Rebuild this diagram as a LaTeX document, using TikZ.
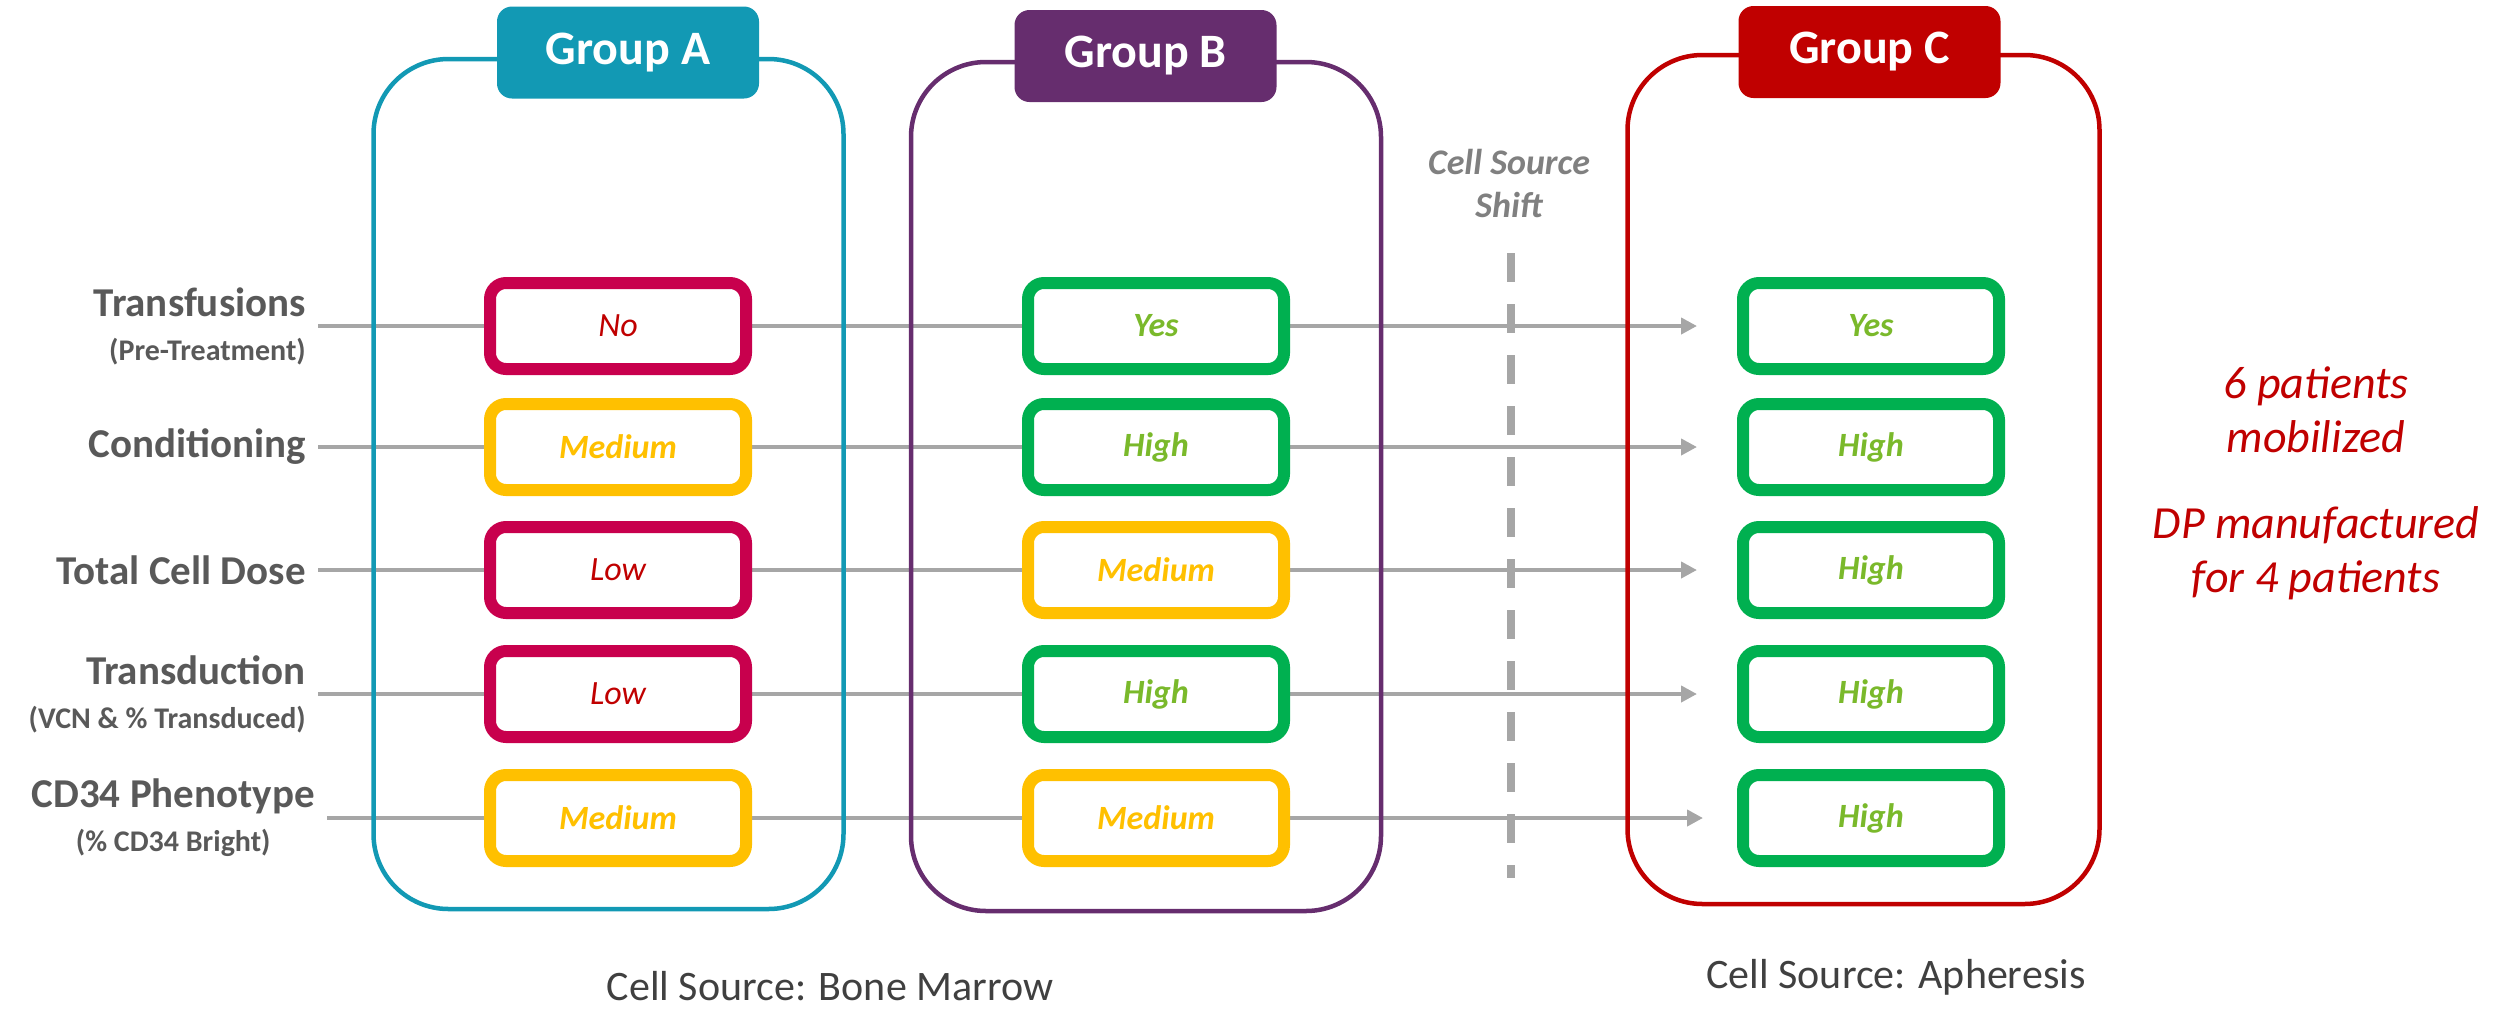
\documentclass[tikz,border=0pt]{standalone}
\usepackage{fontspec}
\setmainfont{Carlito}
\usetikzlibrary{arrows.meta,backgrounds}

\definecolor{grpA}{HTML}{1299B4}
\definecolor{grpB}{HTML}{662D6E}
\definecolor{grpC}{HTML}{C00000}
\definecolor{lvRed}{HTML}{C8004D}
\definecolor{lvYellow}{HTML}{FFC000}
\definecolor{lvGreen}{HTML}{00B050}
\definecolor{txGreen}{HTML}{7AB92B}
\definecolor{arrGray}{HTML}{A6A6A6}
\definecolor{lblGray}{HTML}{595959}
\definecolor{shiftGray}{HTML}{808080}
\definecolor{srcGray}{HTML}{404040}

\newcommand\sublbl[1]{{\fontsize{30}{44}\selectfont #1}}

\begin{document}
\begin{tikzpicture}[x=1pt,y=-1pt,
    grpframe/.style={draw=#1, line width=4.5pt, rounded corners=75pt, inner sep=0pt},
    grptab/.style={fill=#1, rounded corners=15pt, minimum width=262pt, minimum height=92pt, text=white, font=\fontsize{48}{52}\selectfont\bfseries},
    lvbox/.style={draw=#1, line width=12pt, rounded corners=16pt, fill=white, minimum width=256pt, minimum height=86pt, inner sep=0pt},
    lowbox/.style={lvbox=lvRed, text=grpC, font=\fontsize{34}{40}\selectfont\itshape},
    medbox/.style={lvbox=lvYellow, text=lvYellow, font=\fontsize{34}{40}\selectfont\bfseries\itshape},
    highbox/.style={lvbox=lvGreen, text=txGreen, font=\fontsize{34}{40}\selectfont\bfseries\itshape},
    rowlbl/.style={anchor=east, align=right, inner xsep=12pt, inner ysep=0pt, text=lblGray, font=\fontsize{41}{44}\selectfont\bfseries},
    conn/.style={draw=arrGray, line width=4pt},
    arrline/.style={conn, -{Triangle[length=16pt,width=16pt]}}]
    \useasboundingbox (0,0) rectangle (2504,1010);

    % group frames and their tabs
    \node[grpframe=grpA, minimum width=470pt, minimum height=850pt] (frameA) at (608.5,484) {};
    \node[grpframe=grpB, minimum width=470pt, minimum height=849pt] (frameB) at (1146,486.5) {};
    \node[grpframe=grpC, minimum width=472pt, minimum height=849pt] (frameC) at (1863.5,479.5) {};
    \node[grptab=grpA] (tabA) at (628,52.5) {Group A};
    \node[grptab=grpB] (tabB) at (1145.5,56) {Group B};
    \node[grptab=grpC] (tabC) at (1869.5,52) {Group C};

    % row labels
    \node[rowlbl] (lTransf) at (318,326) {Transfusions\\\sublbl{(Pre-Treatment)}};
    \node[rowlbl] (lCond) at (318,447) {Conditioning};
    \node[rowlbl] (lDose) at (318,570) {Total Cell Dose};
    \node[rowlbl] (lTransd) at (318,694) {Transduction\\\sublbl{(VCN \& \% Transduced)}};
    \node[rowlbl, align=center] (lCD34) at (327,818) {CD34 Phenotype\\\sublbl{(\% CD34 Bright)}};

    % group A
    \node[lowbox] (a1) at (618,326) {No};
    \node[medbox] (a2) at (618,447) {Medium};
    \node[lowbox] (a3) at (618,570) {Low};
    \node[lowbox] (a4) at (618,694) {Low};
    \node[medbox] (a5) at (618,818) {Medium};

    % group B
    \node[highbox] (b1) at (1156,326) {Yes};
    \node[highbox] (b2) at (1156,447) {High};
    \node[medbox] (b3) at (1156,570) {Medium};
    \node[highbox] (b4) at (1156,694) {High};
    \node[medbox] (b5) at (1156,818) {Medium};

    % group C
    \node[highbox] (c1) at (1871,326) {Yes};
    \node[highbox] (c2) at (1871,447) {High};
    \node[highbox] (c3) at (1871,570) {High};
    \node[highbox] (c4) at (1871,694) {High};
    \node[highbox] (c5) at (1871,818) {High};

    \coordinate (t1) at (1697,326);
    \coordinate (t2) at (1697,447);
    \coordinate (t3) at (1697,570);
    \coordinate (t4) at (1697,694);
    \coordinate (t5) at (1703,818);

    \begin{scope}[on background layer]
        \draw[conn] (lTransf) -- (a1);
        \draw[conn] (a1) -- (b1);
        \draw[arrline] (b1) -- (t1);
        \draw[conn] (lCond) -- (a2);
        \draw[conn] (a2) -- (b2);
        \draw[arrline] (b2) -- (t2);
        \draw[conn] (lDose) -- (a3);
        \draw[conn] (a3) -- (b3);
        \draw[arrline] (b3) -- (t3);
        \draw[conn] (lTransd) -- (a4);
        \draw[conn] (a4) -- (b4);
        \draw[arrline] (b4) -- (t4);
        \draw[conn] (lCD34) -- (a5);
        \draw[conn] (a5) -- (b5);
        \draw[arrline] (b5) -- (t5);
    \end{scope}

    % cell source shift
    \node[align=center, text=shiftGray, font=\fontsize{36}{43}\selectfont\bfseries\itshape] (shift) at (1509,183) {Cell Source\\Shift};
    \coordinate (dashTop) at (1511,253);
    \coordinate (dashBot) at (1511,878);
    \draw[arrGray, line width=8pt, dash pattern=on 29pt off 22pt] (dashTop) -- (dashBot);

    \node[align=center, text=grpC, font=\fontsize{46}{54}\selectfont\itshape] (mobil) at (2316,410) {6 patients\\mobilized};
    \node[align=center, text=grpC, font=\fontsize{46}{54}\selectfont\itshape] (dpmade) at (2316,553) {DP manufactured\\for 4 patients};

    \node[anchor=base, text=srcGray, font=\fontsize{42}{48}\selectfont] (srcBM) at (830,1000) {Cell Source: Bone Marrow};
    \node[anchor=base, text=srcGray, font=\fontsize{42}{48}\selectfont] (srcAph) at (1896,988) {Cell Source: Apheresis};
\end{tikzpicture}
\end{document}
